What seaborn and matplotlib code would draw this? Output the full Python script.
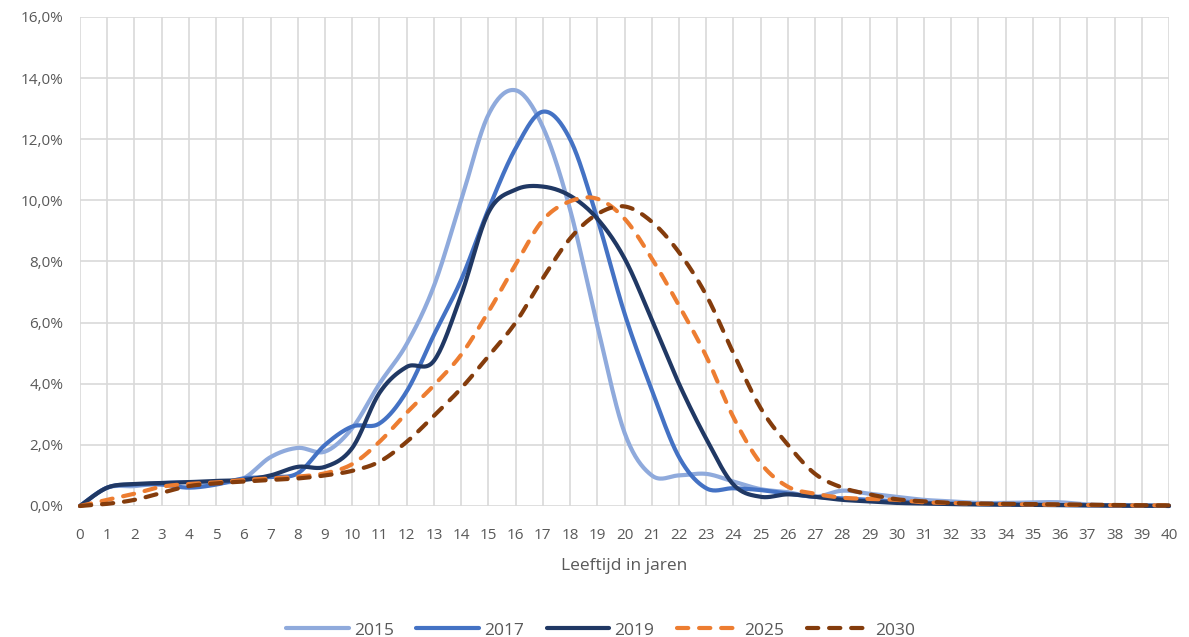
import numpy as np
import pandas as pd
import matplotlib
matplotlib.use("Agg")
import matplotlib.pyplot as plt
import seaborn as sns

# leeftijd 0..40, aandeel in %
leeftijd = list(range(41))

jaar_2015 = [0, 0.6, 0.65, 0.75, 0.78, 0.75, 0.9, 1.6, 1.9, 1.78, 2.55, 4.0, 5.3, 7.2, 10.0,
             12.8, 13.6, 12.4, 9.7, 5.9, 2.4, 1.0, 1.0, 1.05, 0.8, 0.55, 0.45, 0.3, 0.5,
             0.4, 0.3, 0.2, 0.15, 0.1, 0.1, 0.12, 0.12, 0.05, 0.02, 0.01, 0.0]
jaar_2017 = [0, 0.6, 0.7, 0.7, 0.6, 0.7, 0.9, 0.95, 1.07, 2.0, 2.6, 2.7, 3.75, 5.6, 7.4,
             9.7, 11.7, 12.9, 12.0, 9.4, 6.3, 3.8, 1.6, 0.58, 0.58, 0.52, 0.4, 0.3, 0.25,
             0.2, 0.15, 0.1, 0.08, 0.06, 0.05, 0.04, 0.03, 0.02, 0.01, 0.01, 0.0]
jaar_2019 = [0, 0.6, 0.72, 0.75, 0.78, 0.82, 0.85, 1.0, 1.28, 1.28, 1.9, 3.7, 4.55, 4.75, 6.9,
             9.6, 10.35, 10.45, 10.15, 9.4, 8.1, 6.1, 4.0, 2.2, 0.7, 0.3, 0.38, 0.3, 0.2,
             0.15, 0.1, 0.08, 0.06, 0.05, 0.04, 0.03, 0.03, 0.02, 0.01, 0.01, 0.0]
jaar_2025 = [0, 0.2, 0.4, 0.63, 0.72, 0.77, 0.85, 0.9, 0.96, 1.07, 1.37, 2.1, 3.05, 3.95, 4.95,
             6.35, 7.9, 9.35, 9.97, 10.05, 9.4, 8.1, 6.56, 4.9, 2.9, 1.4, 0.63, 0.4, 0.27,
             0.23, 0.2, 0.12, 0.1, 0.07, 0.06, 0.05, 0.04, 0.03, 0.02, 0.02, 0.02]
jaar_2030 = [0, 0.07, 0.2, 0.43, 0.65, 0.74, 0.8, 0.85, 0.9, 1.0, 1.15, 1.45, 2.1, 2.95, 3.85,
             4.9, 6.0, 7.45, 8.75, 9.55, 9.8, 9.3, 8.3, 6.9, 5.0, 3.2, 2.0, 1.05, 0.6,
             0.38, 0.22, 0.15, 0.1, 0.08, 0.07, 0.06, 0.05, 0.04, 0.03, 0.02, 0.02]

reeksen = ["2015", "2017", "2019", "2025", "2030"]
waarden = [jaar_2015, jaar_2017, jaar_2019, jaar_2025, jaar_2030]
kleuren = ["#8FAADC", "#4472C4", "#203864", "#ED7D31", "#843C0C"]
gestreept = [False, False, False, True, True]
y_ticks = [0, 2, 4, 6, 8, 10, 12, 14, 16]


def smooth(x, y, n=20):
    # vloeiende lijn zoals Excel (Catmull-Rom / Bezier)
    x = np.asarray(x, float)
    y = np.asarray(y, float)
    px = np.concatenate([[x[0]], x, [x[-1]]])
    py = np.concatenate([[y[0]], y, [y[-1]]])
    t = np.linspace(0, 1, n, endpoint=False)
    xs, ys = [], []
    for i in range(1, len(px) - 2):
        p0x, p1x, p2x, p3x = px[i - 1:i + 3]
        p0y, p1y, p2y, p3y = py[i - 1:i + 3]
        c1x, c1y = p1x + (p2x - p0x) / 6, p1y + (p2y - p0y) / 6
        c2x, c2y = p2x - (p3x - p1x) / 6, p2y - (p3y - p1y) / 6
        b0, b1, b2, b3 = (1 - t) ** 3, 3 * t * (1 - t) ** 2, 3 * t ** 2 * (1 - t), t ** 3
        xs.append(b0 * p1x + b1 * c1x + b2 * c2x + b3 * p2x)
        ys.append(b0 * p1y + b1 * c1y + b2 * c2y + b3 * p2y)
    xs.append([x[-1]])
    ys.append([y[-1]])
    return np.concatenate(xs), np.concatenate(ys)


sns.set_theme(style="white")
plt.rcParams["font.family"] = ["Open Sans", "DejaVu Sans"]

fig = plt.figure(figsize=(11.89, 6.37), dpi=100)
ax = fig.add_axes([0.0673, 0.2057, 0.9159, 0.7677])

for naam, vals, kleur, streep in zip(reeksen, waarden, kleuren, gestreept):
    sx, sy = smooth(leeftijd, vals)
    df = pd.DataFrame({"leeftijd": sx, "aandeel": sy})
    kw = dict(solid_capstyle="round", dash_capstyle="round")
    if streep:
        kw["linestyle"] = (0, (2.7, 2.6))
    sns.lineplot(data=df, x="leeftijd", y="aandeel", color=kleur, lw=3.0,
                 label=naam, ax=ax, sort=False, clip_on=False, **kw)

ax.set_xlim(0, 40)
ax.set_ylim(0, 16)
ax.set_xticks(leeftijd)
ax.set_yticks(y_ticks)
ax.set_yticklabels([f"{v:.1f}%".replace(".", ",") for v in y_ticks])
ax.grid(True, color="#D9D9D9", lw=1.2)
ax.set_axisbelow(True)
for s in ax.spines.values():
    s.set_visible(False)
ax.tick_params(axis="both", length=0, labelsize=11, labelcolor="#595959")
ax.tick_params(axis="x", pad=16)
ax.tick_params(axis="y", pad=12)
ax.set_xlabel("Leeftijd in jaren", fontsize=12.5, color="#595959", labelpad=11)
ax.set_ylabel("")

handles, labels = ax.get_legend_handles_labels()
ax.get_legend().remove()
fig.legend(handles, labels, loc="lower center", ncol=5, frameon=False,
           bbox_to_anchor=(0.505, -0.027), fontsize=12.5, labelcolor="#595959",
           handlelength=3.6, handletextpad=0.3, columnspacing=1.3)

fig.savefig("out.png", dpi=100)
